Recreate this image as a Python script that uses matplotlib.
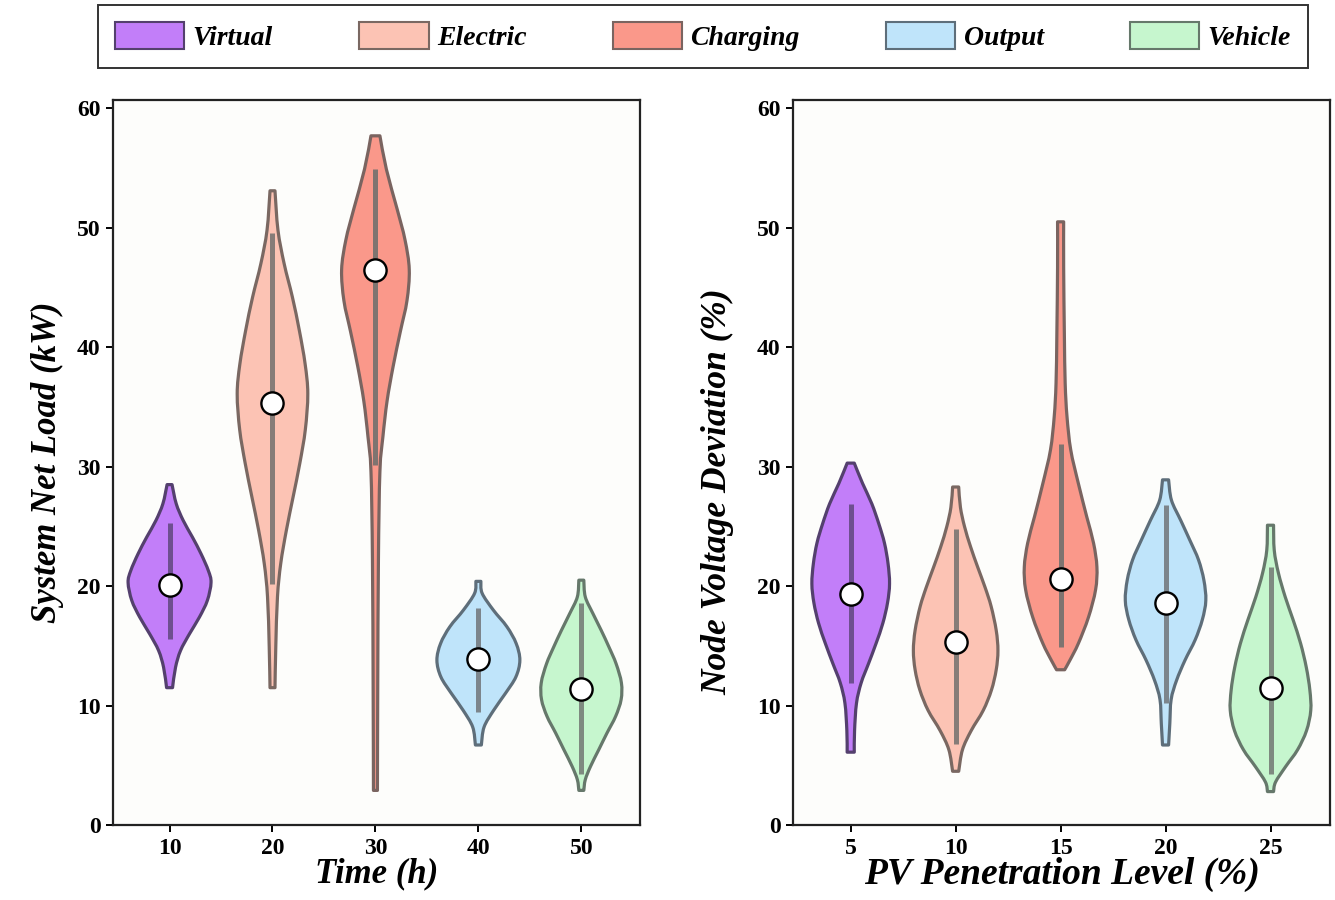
import numpy as np
import matplotlib
matplotlib.use("Agg")
import matplotlib.pyplot as plt
from matplotlib.patches import Patch, PathPatch
from matplotlib.path import Path

plt.rcParams["font.family"] = ["Liberation Serif", "DejaVu Serif"]

# ── categories / legend ──
series_names = ["Virtual", "Electric", "Charging", "Output", "Vehicle"]
time_ticks = [10, 20, 30, 40, 50]
pv_ticks = [5, 10, 15, 20, 25]

# ── left panel: System Net Load (kW) ──
time_median = [20.1, 35.3, 46.5, 13.9, 11.4]
time_box_lo = [15.6, 20.2, 30.1, 9.5, 4.3]
time_box_hi = [25.3, 49.6, 54.9, 18.2, 18.6]

# density profiles (y value, relative half-width)
time_virtual_y = [11.5, 13.2, 14.6, 16.0, 17.4, 18.8, 20.3, 21.3, 22.7, 24.1, 25.5, 26.9, 28.5]
time_virtual_d = [3, 6, 11, 20, 30, 38, 41.7, 39, 31.7, 23, 13.7, 6.7, 2.5]
time_electric_y = [11.5, 14.9, 19.1, 21.9, 24.7, 27.5, 30.3, 33.1, 36.1, 38.6, 41.4, 44.2, 47.0, 49.8, 53.1]
time_electric_d = [2.5, 3.3, 5, 8.3, 14, 20.8, 27.5, 33, 35.5, 32.8, 27, 20, 11.7, 5.5, 2.5]
time_charging_y = [2.9, 11.2, 22.2, 29.6, 32.5, 35.5, 38.4, 41.3, 43.9, 46.5, 49.0, 51.6, 54.9, 57.7]
time_charging_d = [2, 2.3, 3, 4.5, 7.5, 11.7, 17.8, 25, 31.7, 34, 29.7, 21.7, 11, 4.5]
time_output_y = [6.7, 8.2, 9.6, 11.0, 12.4, 13.8, 15.2, 16.6, 18.0, 19.4, 20.4]
time_output_d = [3, 5.7, 15.3, 27, 37.7, 41.7, 38, 28.7, 15, 3.8, 2.5]
time_vehicle_y = [2.9, 3.8, 4.9, 6.3, 7.7, 9.1, 10.5, 11.9, 13.5, 14.9, 16.3, 17.7, 19.1, 20.5]
time_vehicle_d = [2.5, 4, 9.2, 17.5, 25.8, 34.5, 40, 40.3, 35, 27.8, 20, 11.7, 4, 2.5]

# ── right panel: Node Voltage Deviation (%) ──
pv_median = [19.3, 15.3, 20.6, 18.6, 11.5]
pv_box_lo = [11.9, 6.8, 14.9, 10.2, 4.3]
pv_box_hi = [26.9, 24.8, 31.9, 26.8, 21.6]

pv_virtual_y = [6.1, 7.9, 10.2, 11.9, 13.5, 15.2, 16.9, 18.6, 20.2, 21.9, 23.6, 25.2, 26.9, 28.6, 30.3]
pv_virtual_d = [3.5, 3.8, 5.7, 10.3, 17.5, 25, 31.7, 36.3, 38.3, 36.8, 33.3, 27.8, 20.8, 11.7, 3.5]
pv_electric_y = [4.5, 6.3, 7.9, 9.6, 11.3, 13.0, 14.6, 16.3, 18.3, 19.9, 21.6, 23.3, 25.0, 26.6, 28.3]
pv_electric_d = [3, 6.7, 15.3, 27.2, 35.3, 40, 41.7, 40, 35, 29, 21.7, 14.7, 8.7, 4.7, 3]
pv_charging_y = [13.0, 13.8, 15.2, 17.4, 19.7, 21.6, 23.6, 25.8, 28.6, 31.4, 34.2, 37.0, 41.1, 46.7, 50.5]
pv_charging_d = [4, 9.2, 17.5, 27.5, 34.5, 35.8, 32.5, 25.8, 17.5, 10, 6.3, 4.5, 3.7, 3, 3]
pv_output_y = [6.7, 8.5, 10.5, 12.1, 13.8, 15.5, 17.2, 18.8, 20.5, 22.2, 23.8, 25.5, 27.2, 28.9]
pv_output_d = [3, 4.2, 5.5, 10.8, 19.2, 29.2, 36.3, 39.7, 37.8, 32.5, 24.2, 15, 5.8, 3]
pv_vehicle_y = [2.8, 3.6, 4.9, 6.3, 7.9, 9.6, 11.3, 13.2, 15.2, 17.2, 19.1, 21.1, 23.0, 25.1]
pv_vehicle_d = [3, 5, 15, 26.7, 35.5, 39.7, 38.8, 35.3, 29.7, 22.2, 14.5, 7.8, 3.7, 3]

# ── styles ──
fill_colors = ["#C27EF9", "#FCC3B4", "#FA988A", "#BFE4FA", "#C6F6CE"]
edge_colors = ["#54406E", "#7A6862", "#7A6460", "#5E6E7A", "#66786B"]
bar_colors = ["#6E4F90", "#867C78", "#7F7470", "#7C858C", "#7E8A80"]
DENS_PER_STEP = 103.5   # density units equal to one category step


def smooth_side(pts):
    """Catmull-Rom through the outline points, returned as Bezier vertices/codes."""
    verts, codes = [], []
    n = len(pts)
    for k in range(n - 1):
        p0 = pts[max(k - 1, 0)]
        p1 = pts[k]
        p2 = pts[k + 1]
        p3 = pts[min(k + 2, n - 1)]
        c1 = p1 + (p2 - p0) / 6.0
        c2 = p2 - (p3 - p1) / 6.0
        verts += [c1, c2, p2]
        codes += [Path.CURVE4] * 3
    return verts, codes


def violin_path(xc, ys, half):
    right = np.column_stack([xc + half, ys])
    left = np.column_stack([xc - half, ys])[::-1]
    verts = [right[0]]
    codes = [Path.MOVETO]
    v, c = smooth_side(right)
    verts += v
    codes += c
    verts.append(left[0])
    codes.append(Path.LINETO)
    v, c = smooth_side(left)
    verts += v
    codes += c
    verts.append(right[0])
    codes.append(Path.CLOSEPOLY)
    return Path(np.array(verts), codes)


def draw_panel(ax, ticks, profiles, medians, lo, hi):
    step = ticks[1] - ticks[0]
    for i, (xc, (ys, ds)) in enumerate(zip(ticks, profiles)):
        ys = np.asarray(ys, dtype=float)
        half = np.asarray(ds, dtype=float) * step / DENS_PER_STEP
        patch = PathPatch(violin_path(xc, ys, half), facecolor=fill_colors[i],
                          edgecolor=edge_colors[i], linewidth=2.3, zorder=2,
                          joinstyle="round")
        ax.add_patch(patch)
        ax.plot([xc, xc], [lo[i], hi[i]], color=bar_colors[i], lw=3.6,
                solid_capstyle="butt", zorder=3)
        ax.plot(xc, medians[i], "o", ms=16, mfc="white", mec="black",
                mew=1.7, zorder=4)
    ax.set_xticks(ticks)
    ax.set_xlim(ticks[0] - 0.55 * step, ticks[-1] + 0.57 * step)
    ax.set_ylim(0, 60.7)
    ax.set_yticks(range(0, 61, 10))
    ax.set_facecolor("#FDFDFB")
    for sp in ax.spines.values():
        sp.set_linewidth(1.6)
        sp.set_color("#222222")
    ax.tick_params(direction="out", length=5, width=1.4, labelsize=17, pad=4)
    for lab in ax.get_xticklabels() + ax.get_yticklabels():
        lab.set_fontweight("bold")


fig = plt.figure(figsize=(13.35, 9), dpi=100)
ax1 = fig.add_axes([0.0846, 0.0833, 0.3948, 0.8056])
ax2 = fig.add_axes([0.594, 0.0833, 0.4025, 0.8056])

draw_panel(ax1, time_ticks,
           [(time_virtual_y, time_virtual_d), (time_electric_y, time_electric_d),
            (time_charging_y, time_charging_d), (time_output_y, time_output_d),
            (time_vehicle_y, time_vehicle_d)],
           time_median, time_box_lo, time_box_hi)
draw_panel(ax2, pv_ticks,
           [(pv_virtual_y, pv_virtual_d), (pv_electric_y, pv_electric_d),
            (pv_charging_y, pv_charging_d), (pv_output_y, pv_output_d),
            (pv_vehicle_y, pv_vehicle_d)],
           pv_median, pv_box_lo, pv_box_hi)

label_font = dict(fontweight="bold", fontstyle="italic")
ax1.set_xlabel("Time (h)", labelpad=-1, fontsize=25, **label_font)
ax1.set_ylabel("System Net Load (kW)", labelpad=9, fontsize=25, **label_font)
ax2.set_xlabel("PV Penetration Level (%)", labelpad=-1, fontsize=27, **label_font)
ax2.set_ylabel("Node Voltage Deviation (%)", fontsize=25.5, **label_font)
ax2.yaxis.set_label_coords(-0.11, 0.46)

handles = [Patch(facecolor=fill_colors[i], edgecolor=edge_colors[i], linewidth=1.5,
                 label=series_names[i]) for i in range(len(series_names))]
leg = fig.legend(handles=handles, loc="center", ncol=5,
                 bbox_to_anchor=(703 / 1335, 863.5 / 900),
                 prop=dict(family="Liberation Serif", weight="bold", style="italic", size=20),
                 handlelength=2.5, handleheight=1.1, handletextpad=0.3,
                 columnspacing=3.1, borderpad=0.6,
                 borderaxespad=0, fancybox=False, framealpha=1, edgecolor="#333333")
leg.get_frame().set_linewidth(1.4)

fig.savefig("out.png", dpi=100, facecolor="white")
